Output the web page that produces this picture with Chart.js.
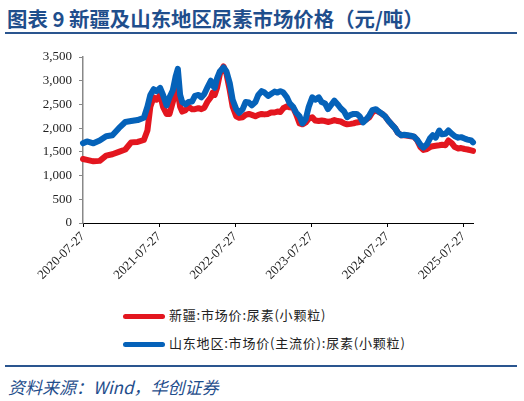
<!DOCTYPE html>
<html>
<head>
<meta charset="utf-8">
<script src="https://cdn.jsdelivr.net/npm/chart.js@4/dist/chart.umd.min.js"></script>
<style>
    body { margin: 0; background: #fff; width: 524px; height: 401px; position: relative; overflow: hidden; }
    .titulo { position: absolute; left: 7px; top: 3px; font-family: "Noto Sans CJK SC"; font-weight: 700; font-size: 20.4px; color: #1f4e8c; white-space: nowrap; }
    .linha { position: absolute; left: 5px; width: 512px; height: 2px; background: #2a558f; }
    .grafico { position: absolute; left: 0; top: 40px; width: 524px; height: 260px; }
    .legenda { position: absolute; left: 123px; font-family: "Noto Sans CJK SC"; font-size: 13px; letter-spacing: 0.8px; color: #222; white-space: nowrap; }
    .legenda span.amostra { display: inline-block; width: 42px; height: 5px; border-radius: 3px; vertical-align: middle; margin-right: 4px; }
    .fonte { position: absolute; left: 8px; top: 374px; font-family: "Noto Sans CJK SC"; font-style: italic; font-size: 17px; color: #1f4e8c; white-space: nowrap; }
</style>
</head>
<body>
<div class="titulo">图表 9 新疆及山东地区尿素市场价格（元/吨）</div>
<div class="linha" style="top: 32px;"></div>
<div class="grafico"><canvas id="GraficoUreia" width="524" height="260"></canvas></div>
<div class="legenda" style="top: 305px;"><span class="amostra" style="background:#e3161f;"></span>新疆:市场价:尿素(小颗粒)</div>
<div class="legenda" style="top: 333px;"><span class="amostra" style="background:#0562b9;"></span>山东地区:市场价(主流价):尿素(小颗粒)</div>
<div class="linha" style="top: 365px;"></div>
<div class="fonte">资料来源：Wind，华创证券</div>

<script>
// datas (aprox. quinzenal)
var datas = [
    "2020-07-27", "2020-08-15", "2020-09-15", "2020-10-15", "2020-11-15", "2020-12-15",
    "2021-01-15", "2021-02-15", "2021-03-15", "2021-04-15", "2021-05-15", "2021-06-01",
    "2021-06-15", "2021-07-01", "2021-07-15", "2021-08-01", "2021-08-15", "2021-09-01",
    "2021-09-15", "2021-10-01", "2021-10-15", "2021-10-25", "2021-11-05", "2021-11-15",
    "2021-12-01", "2021-12-15", "2022-01-01", "2022-01-15", "2022-02-01", "2022-02-15",
    "2022-03-01", "2022-03-15", "2022-04-01", "2022-04-10", "2022-04-20", "2022-05-01",
    "2022-05-15", "2022-06-01", "2022-06-15", "2022-07-01", "2022-07-15", "2022-08-01",
    "2022-08-15", "2022-09-01", "2022-09-15", "2022-10-01", "2022-10-15", "2022-11-01",
    "2022-11-15", "2022-12-01", "2022-12-15", "2023-01-01", "2023-01-15", "2023-02-01",
    "2023-02-15", "2023-03-01", "2023-03-15", "2023-04-01", "2023-04-15", "2023-05-01",
    "2023-05-15", "2023-06-01", "2023-06-15", "2023-07-01", "2023-07-15", "2023-08-01",
    "2023-08-15", "2023-09-01", "2023-09-15", "2023-10-01", "2023-10-15", "2023-11-01",
    "2023-11-15", "2023-12-01", "2023-12-15", "2024-01-01", "2024-01-15", "2024-02-01",
    "2024-02-15", "2024-03-01", "2024-03-15", "2024-04-01", "2024-04-15", "2024-05-01",
    "2024-05-15", "2024-06-01", "2024-06-15", "2024-07-01", "2024-07-15", "2024-08-01",
    "2024-08-15", "2024-09-01", "2024-09-15", "2024-10-01", "2024-10-15", "2024-11-01",
    "2024-11-15", "2024-12-01", "2024-12-15", "2025-01-01", "2025-01-15", "2025-02-01",
    "2025-02-15", "2025-03-01", "2025-03-15", "2025-04-01", "2025-04-15", "2025-05-01",
    "2025-05-15", "2025-06-01", "2025-06-15", "2025-07-01", "2025-07-15", "2025-08-01",
    "2025-08-15", "2025-09-01", "2025-09-10"
];

var precoXinjiang = [
    1350, 1330, 1300, 1310, 1420, 1450,
    1500, 1550, 1700, 1710, 1750, 1950,
    2450, 2650, 2600, 2700, 2450, 2300,
    2300, 2550, 2800, 2750, 2450, 2350,
    2380, 2450, 2400, 2400, 2420, 2400,
    2430, 2550, 2650, 2750, 2700, 2850,
    3150, 3300, 3150, 2800, 2450, 2250,
    2220, 2230, 2280, 2300, 2280, 2250,
    2280, 2300, 2290, 2300, 2330, 2330,
    2350, 2340, 2420, 2460, 2440, 2430,
    2300, 2100, 2080, 2120, 2200, 2230,
    2160, 2150, 2160, 2150, 2130, 2150,
    2170, 2150, 2140, 2100, 2080, 2090,
    2100, 2120, 2130, 2150, 2180, 2230,
    2330, 2380, 2340, 2300, 2250, 2150,
    2080, 2000, 1900, 1850, 1850, 1840,
    1830, 1820, 1750, 1600, 1540, 1560,
    1600, 1620, 1630, 1640, 1650, 1640,
    1740, 1680, 1600, 1570, 1580, 1560,
    1550, 1530, 1520
];

var precoShandong = [
    1680, 1720, 1680, 1740, 1830, 1850,
    2000, 2130, 2150, 2170, 2220, 2450,
    2700, 2820, 2780, 2850, 2700, 2480,
    2650, 2800, 3100, 3250, 2700, 2550,
    2500, 2550, 2560, 2680, 2700, 2650,
    2720, 2850, 3000, 2900, 2850, 3050,
    3200, 3280, 3200, 2950, 2600, 2400,
    2320, 2400, 2550, 2540, 2480, 2550,
    2700, 2780, 2750, 2680, 2720, 2770,
    2750, 2780, 2750, 2650, 2520, 2450,
    2330, 2250, 2100, 2200, 2450, 2650,
    2600, 2650, 2550, 2520, 2400, 2500,
    2580, 2500, 2420, 2350, 2230, 2280,
    2300, 2300, 2250, 2120, 2180, 2270,
    2380, 2400, 2350, 2300, 2250, 2150,
    2080, 2000, 1900, 1850, 1860, 1850,
    1840, 1820, 1760, 1650, 1590, 1660,
    1780, 1850, 1800, 1950, 1870, 1880,
    1950, 1880, 1830, 1800, 1810, 1780,
    1760, 1740, 1700
];

var datasEixo = ["2020-07-27", "2021-07-27", "2022-07-27", "2023-07-27", "2024-07-27", "2025-07-27"];

function PegarDias(data) {
    return (Date.parse(data) - Date.parse(datas[0])) / 86400000;
}

function MontarPontos(valores) {
    var pontos = [];
    var indice = 0;
    while (indice < valores.length) {
        pontos.push({ x: PegarDias(datas[indice]), y: valores[indice] });
        indice++;
    }
    return pontos;
}

var diasEixo = datasEixo.map(PegarDias);
var fonteEixo = { family: "'Liberation Serif', 'Times New Roman', serif", size: 13 };

new Chart(document.getElementById("GraficoUreia"), {
    type: 'line',
    data: {
        datasets: [
            {
                label: "新疆:市场价:尿素(小颗粒)",
                data: MontarPontos(precoXinjiang),
                borderColor: "#e3161f",
                borderWidth: 6,
                pointRadius: 0,
                borderJoinStyle: 'round',
                borderCapStyle: 'round',
                fill: false,
                order: 1
            },
            {
                label: "山东地区:市场价(主流价):尿素(小颗粒)",
                data: MontarPontos(precoShandong),
                borderColor: "#0562b9",
                borderWidth: 6,
                pointRadius: 0,
                borderJoinStyle: 'round',
                borderCapStyle: 'round',
                fill: false,
                order: 0
            }
        ]
    },
    options: {
        responsive: false,
        animation: false,
        clip: false,
        layout: { padding: { top: 17, right: 51, bottom: 0, left: 0 } },
        plugins: { legend: { display: false }, tooltip: { enabled: false } },
        scales: {
            x: {
                type: 'linear',
                min: 0,
                max: PegarDias(datas[datas.length - 1]),
                afterFit: function (escala) { escala.height = 77; },
                afterBuildTicks: function (escala) {
                    escala.ticks = diasEixo.map(function (v) { return { value: v }; });
                },
                border: { color: "#000", width: 1 },
                grid: { drawOnChartArea: false, drawTicks: true, tickLength: 4, color: "#000" },
                ticks: {
                    autoSkip: false,
                    minRotation: 45,
                    maxRotation: 45,
                    padding: 2,
                    color: "#222",
                    font: fonteEixo,
                    callback: function (valor) {
                        var i = diasEixo.indexOf(valor);
                        return i >= 0 ? datasEixo[i] : '';
                    }
                }
            },
            y: {
                min: 0,
                max: 3500,
                afterFit: function (escala) { escala.width = 83; },
                border: { color: "#888", width: 1.5 },
                grid: { drawOnChartArea: false, drawTicks: true, tickLength: 4, color: "#888" },
                ticks: {
                    stepSize: 500,
                    padding: 7,
                    color: "#222",
                    font: fonteEixo,
                    callback: function (valor) { return valor.toLocaleString('en-US'); }
                }
            }
        }
    }
});
</script>
</body>
</html>
